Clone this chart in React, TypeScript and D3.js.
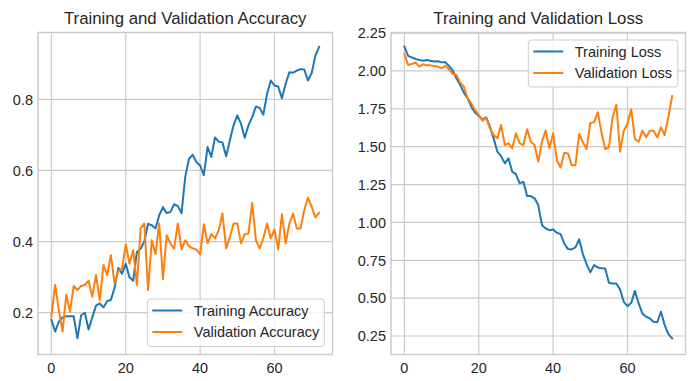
import React from "react";
import * as d3 from "d3";

const epochs = d3.range(73);

const trainAcc = [
  0.18, 0.147, 0.175, 0.187, 0.19, 0.19, 0.19, 0.128, 0.193, 0.2,
  0.153, 0.187, 0.22, 0.226, 0.215, 0.233, 0.236, 0.27, 0.326, 0.31,
  0.338, 0.3, 0.29, 0.371, 0.38, 0.4, 0.45, 0.446, 0.437, 0.474,
  0.497, 0.48, 0.483, 0.505, 0.5, 0.48, 0.582, 0.633, 0.644, 0.624,
  0.614, 0.587, 0.666, 0.638, 0.693, 0.681, 0.679, 0.64, 0.685, 0.727,
  0.755, 0.731, 0.692, 0.727, 0.75, 0.78, 0.776, 0.757, 0.815, 0.853,
  0.839, 0.836, 0.803, 0.844, 0.876, 0.875, 0.881, 0.885, 0.884, 0.853,
  0.874, 0.923, 0.948,
];

const valAcc = [
  0.189, 0.278, 0.207, 0.147, 0.25, 0.203, 0.275, 0.264, 0.275, 0.278,
  0.29, 0.245, 0.306, 0.235, 0.334, 0.306, 0.362, 0.282, 0.318, 0.324,
  0.392, 0.338, 0.376, 0.278, 0.437, 0.451, 0.264, 0.404, 0.365, 0.451,
  0.294, 0.418, 0.395, 0.38, 0.451, 0.378, 0.404, 0.387, 0.381, 0.378,
  0.364, 0.449, 0.395, 0.421, 0.409, 0.432, 0.479, 0.381, 0.413, 0.451,
  0.451, 0.395, 0.421, 0.423, 0.509, 0.404, 0.381, 0.409, 0.451, 0.409,
  0.434, 0.378, 0.477, 0.395, 0.451, 0.479, 0.437, 0.437, 0.488, 0.524,
  0.498, 0.468, 0.481,
];

const trainLoss = [
  2.161, 2.099, 2.09, 2.079, 2.073, 2.068, 2.073, 2.068, 2.062, 2.064,
  2.057, 2.057, 2.033, 2.002, 1.952, 1.907, 1.857, 1.819, 1.764, 1.725,
  1.703, 1.68, 1.694, 1.632, 1.555, 1.467, 1.438, 1.39, 1.423, 1.335,
  1.319, 1.258, 1.269, 1.174, 1.174, 1.159, 1.115, 0.982, 0.96, 0.949,
  0.954, 0.932, 0.923, 0.861, 0.824, 0.822, 0.835, 0.888, 0.791, 0.725,
  0.67, 0.718, 0.703, 0.698, 0.696, 0.601, 0.597, 0.597, 0.557, 0.476,
  0.447, 0.469, 0.548, 0.465, 0.399, 0.377, 0.366, 0.344, 0.341, 0.41,
  0.322, 0.262, 0.234,
];

const valLoss = [
  2.112, 2.04, 2.046, 2.057, 2.029, 2.044, 2.037, 2.037, 2.033, 2.029,
  2.018, 2.033, 2.011, 1.98, 1.974, 1.923, 1.896, 1.819, 1.786, 1.742,
  1.71, 1.672, 1.69, 1.622, 1.577, 1.555, 1.644, 1.511, 1.522, 1.489,
  1.588, 1.522, 1.511, 1.615, 1.533, 1.511, 1.4, 1.533, 1.606, 1.489,
  1.588, 1.411, 1.363, 1.46, 1.456, 1.378, 1.378, 1.584, 1.529, 1.485,
  1.657, 1.661, 1.728, 1.595, 1.485, 1.496, 1.695, 1.777, 1.467, 1.606,
  1.65, 1.746, 1.551, 1.533, 1.606, 1.562, 1.606, 1.606, 1.562, 1.628,
  1.577, 1.695, 1.834,
];

const xTicks = [0, 20, 40, 60];
const accTicks = [0.2, 0.4, 0.6, 0.8];
const lossTicks = [0.25, 0.5, 0.75, 1.0, 1.25, 1.5, 1.75, 2.0, 2.25];

const BLUE = "#1f77b4";
const ORANGE = "#ff7f0e";
const GRID = "#cccccc";
const TEXT = "#262626";
const FONT = "'Liberation Sans', Arial, sans-serif";

type PanelProps = {
  left: number;
  right: number;
  top: number;
  bottom: number;
  yDomain: [number, number];
  yTicks: number[];
  yFmt: (v: number) => string;
  title: string;
  s1: number[];
  s2: number[];
  l1: string;
  l2: string;
  legend: { x: number; y: number; w: number; h: number };
};

function Panel(p: PanelProps) {
  const x = d3.scaleLinear().domain([-3.6, 75.6]).range([p.left, p.right]);
  const y = d3.scaleLinear().domain(p.yDomain).range([p.bottom, p.top]);
  const line = d3
    .line<number>()
    .x((_, i) => x(epochs[i]))
    .y((d) => y(d));
  const lg = p.legend;
  return (
    <g>
      <rect x={p.left} y={p.top} width={p.right - p.left} height={p.bottom - p.top} fill="#ffffff" />
      {xTicks.map((t) => (
        <line key={"gx" + t} x1={x(t)} x2={x(t)} y1={p.top} y2={p.bottom} stroke={GRID} strokeWidth={1.2} />
      ))}
      {p.yTicks.map((t) => (
        <line key={"gy" + t} x1={p.left} x2={p.right} y1={y(t)} y2={y(t)} stroke={GRID} strokeWidth={1.2} />
      ))}
      <rect
        x={p.left}
        y={p.top}
        width={p.right - p.left}
        height={p.bottom - p.top}
        fill="none"
        stroke={GRID}
        strokeWidth={1.5}
      />
      <path d={line(p.s1) || ""} fill="none" stroke={BLUE} strokeWidth={2} strokeLinejoin="round" strokeLinecap="square" />
      <path d={line(p.s2) || ""} fill="none" stroke={ORANGE} strokeWidth={2} strokeLinejoin="round" strokeLinecap="square" />
      {xTicks.map((t) => (
        <text key={"tx" + t} x={x(t)} y={p.bottom + 18.5} textAnchor="middle" fontSize={14.5} fill={TEXT}>
          {t}
        </text>
      ))}
      {p.yTicks.map((t) => (
        <text key={"ty" + t} x={p.left - 5} y={y(t)} dy="0.36em" textAnchor="end" fontSize={14.5} fill={TEXT}>
          {p.yFmt(t)}
        </text>
      ))}
      <text x={(p.left + p.right) / 2} y={p.top - 9} textAnchor="middle" fontSize={16.8} fill={TEXT}>
        {p.title}
      </text>
      <rect
        x={lg.x}
        y={lg.y}
        width={lg.w}
        height={lg.h}
        rx={3}
        fill="#ffffff"
        fillOpacity={0.8}
        stroke={GRID}
        strokeWidth={1}
      />
      <line x1={lg.x + 5} x2={lg.x + 35} y1={lg.y + 11.5} y2={lg.y + 11.5} stroke={BLUE} strokeWidth={2} />
      <line x1={lg.x + 5} x2={lg.x + 35} y1={lg.y + 33} y2={lg.y + 33} stroke={ORANGE} strokeWidth={2} />
      <text x={lg.x + 46.5} y={lg.y + 11.5} dy="0.36em" fontSize={14.5} fill={TEXT}>
        {p.l1}
      </text>
      <text x={lg.x + 46.5} y={lg.y + 33} dy="0.36em" fontSize={14.5} fill={TEXT}>
        {p.l2}
      </text>
    </g>
  );
}

export default function App() {
  return (
    <svg
      width={698}
      height={381}
      style={{ position: "fixed", left: 0, top: 0, background: "#ffffff", fontFamily: FONT }}
    >
      <rect x={0} y={0} width={698} height={381} fill="#ffffff" />
      <Panel
        left={38}
        right={332.5}
        top={32.5}
        bottom={354.5}
        yDomain={[0.0825, 0.988]}
        yTicks={accTicks}
        yFmt={(v) => d3.format(".1f")(v)}
        title="Training and Validation Accuracy"
        s1={trainAcc}
        s2={valAcc}
        l1="Training Accuracy"
        l2="Validation Accuracy"
        legend={{ x: 147.3, y: 299, w: 177, h: 47.5 }}
      />
      <Panel
        left={391}
        right={685.5}
        top={32.5}
        bottom={354.5}
        yDomain={[0.128, 2.254]}
        yTicks={lossTicks}
        yFmt={(v) => d3.format(".2f")(v)}
        title="Training and Validation Loss"
        s1={trainLoss}
        s2={valLoss}
        l1="Training Loss"
        l2="Validation Loss"
        legend={{ x: 528.3, y: 40, w: 149.5, h: 47 }}
      />
    </svg>
  );
}
